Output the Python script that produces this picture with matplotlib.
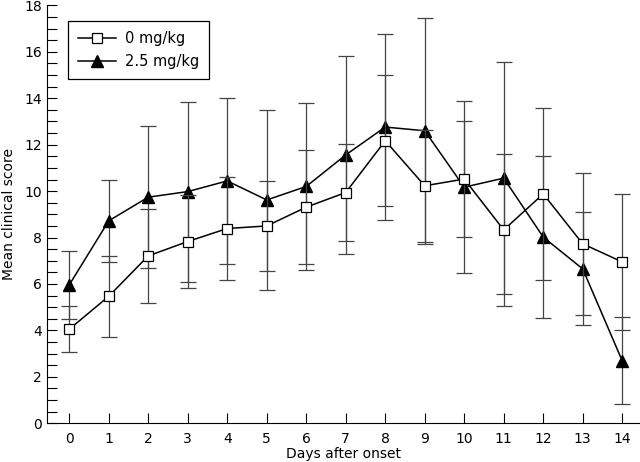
import numpy as np
import matplotlib
matplotlib.use("Agg")
import matplotlib.pyplot as plt
from matplotlib.ticker import MultipleLocator
from matplotlib.lines import Line2D

# dados (média +- erro)
days = list(range(15))
mean_0 = [4.05, 5.47, 7.21, 7.83, 8.39, 8.50, 9.31, 9.94, 12.17, 10.23, 10.52, 8.33, 9.88, 7.73, 6.95]
err_0 = [1.00, 1.74, 2.03, 2.00, 2.21, 1.95, 2.45, 2.10, 2.83, 2.40, 2.50, 3.27, 3.70, 3.07, 2.94]
mean_25 = [5.96, 8.72, 9.74, 9.98, 10.44, 9.62, 10.20, 11.56, 12.76, 12.60, 10.17, 10.56, 8.02, 6.65, 2.69]
err_25 = [1.45, 1.76, 3.05, 3.88, 3.57, 3.88, 3.60, 4.26, 4.00, 4.86, 3.70, 5.00, 3.50, 2.43, 1.87]

labels = ["0 mg/kg", "2.5 mg/kg"]

plt.rcParams['font.family'] = ['DejaVu Sans']
fig = plt.figure(figsize=(6.4, 4.62), dpi=100)
ax = fig.add_axes([0.073, 0.0838, 0.927, 0.9045])

ax.errorbar(days, mean_25, yerr=err_25, color='black', lw=1.1, marker='^', ms=8.5,
            mfc='black', mec='black', ecolor='#444444', elinewidth=0.9, capsize=5.5,
            capthick=0.9, zorder=2)
ax.errorbar(days, mean_0, yerr=err_0, color='black', lw=1.1, marker='s', ms=6.8,
            mfc='white', mec='black', mew=0.9, ecolor='#444444', elinewidth=0.9, capsize=5.5,
            capthick=0.9, zorder=3)

ax.set_xlim(-0.57, 14.45)
ax.set_ylim(0, 18)
ax.set_xticks(days)
ax.yaxis.set_major_locator(MultipleLocator(2))
ax.yaxis.set_minor_locator(MultipleLocator(0.5))
ax.tick_params(axis='both', which='both', direction='in', length=7, width=0.8, labelsize=10)
ax.tick_params(axis='x', pad=6)
ax.spines['top'].set_visible(False)
ax.spines['right'].set_visible(False)

ax.set_xlabel("Days after onset", fontsize=10, labelpad=1)
ax.set_ylabel("Mean clinical score", fontsize=10, labelpad=6)

# legenda só com linha + marcador (sem barras de erro)
h0 = Line2D([], [], color='black', lw=1.1, marker='s', ms=6.8, mfc='white', mec='black', mew=0.9)
h25 = Line2D([], [], color='black', lw=1.1, marker='^', ms=8.5, mfc='black', mec='black')
leg = ax.legend([h0, h25], labels, loc='upper left', bbox_to_anchor=(0.036, 0.963),
                fontsize=10.5, handlelength=2.6, handletextpad=0.6, fancybox=False,
                edgecolor='black', framealpha=1, borderpad=0.7, labelspacing=0.55,
                borderaxespad=0)
leg.get_frame().set_linewidth(0.9)

fig.savefig("out.png", dpi=100)
